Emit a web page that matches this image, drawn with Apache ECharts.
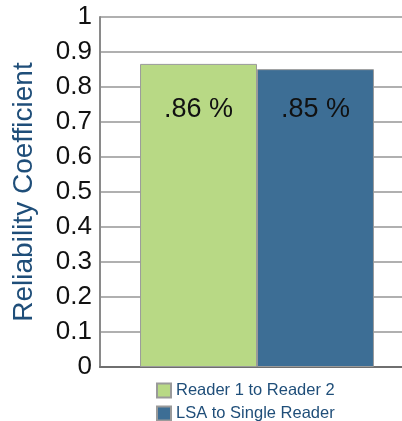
<!DOCTYPE html>
<html>
<head>
<meta charset="utf-8">
<script src="https://cdn.jsdelivr.net/npm/echarts@6/dist/echarts.min.js"></script>
<style>
  html, body { margin: 0; padding: 0; background: #fff; }
  #chart { width: 402px; height: 421px; }
</style>
</head>
<body>
<div id="chart"></div>
<script>
  // data
  var categories = ['Reliability'];
  var seriesNames = ['Reader 1 to Reader 2', 'LSA to Single Reader'];
  var readerValues = [0.866];
  var lsaValues = [0.851];
  var barLabels = ['.86 %', '.85 %'];
  var yTicks = [0, 0.1, 0.2, 0.3, 0.4, 0.5, 0.6, 0.7, 0.8, 0.9, 1];

  var chart = echarts.init(document.getElementById('chart'));
  var font = '"Liberation Sans", Arial, sans-serif';

  var legendText = {
    fontFamily: font,
    fontSize: 16.5,
    color: '#1f4e79'
  };

  var option = {
    backgroundColor: '#ffffff',
    animation: false,
    grid: {
      left: 100,
      width: 314,
      top: 17,
      bottom: 54,
      outerBoundsMode: 'none'
    },
    // one legend per row so they stack like the original
    legend: [
      {
        left: 156,
        top: 382,
        padding: 0,
        icon: 'rect',
        itemWidth: 14,
        itemHeight: 14,
        data: [seriesNames[0]],
        textStyle: legendText
      },
      {
        left: 156,
        top: 405,
        padding: 0,
        icon: 'rect',
        itemWidth: 14,
        itemHeight: 14,
        data: [seriesNames[1]],
        textStyle: legendText
      }
    ],
    xAxis: {
      type: 'category',
      data: categories,
      axisLabel: {show: false},
      axisTick: {show: false},
      axisLine: {
        lineStyle: {color: '#6f6f6f', width: 2}
      }
    },
    yAxis: {
      type: 'value',
      min: yTicks[0],
      max: yTicks[yTicks.length - 1],
      interval: 0.1,
      name: 'Reliability Coefficient',
      nameLocation: 'middle',
      nameGap: 62,
      nameTextStyle: {
        fontFamily: font,
        fontSize: 28,
        color: '#1f4e79'
      },
      axisLine: {
        show: true,
        lineStyle: {color: '#8a8a8a', width: 2}
      },
      axisTick: {show: false},
      axisLabel: {
        fontFamily: font,
        fontSize: 26,
        color: '#111',
        margin: 8,
        formatter: function (v) {
          return String(Math.round(v * 10) / 10);
        }
      },
      splitLine: {
        lineStyle: {color: '#969696', width: 1.6}
      }
    },
    series: [
      {
        name: seriesNames[0],
        type: 'bar',
        data: readerValues,
        barGap: '0%',
        barCategoryGap: '25.5%',
        itemStyle: {color: '#b8d985', borderColor: '#9a9a9a', borderWidth: 1},
        label: {
          show: true,
          position: 'insideTop',
          distance: 32,
          fontFamily: font,
          fontSize: 27,
          color: '#111',
          formatter: function () { return barLabels[0]; }
        }
      },
      {
        name: seriesNames[1],
        type: 'bar',
        data: lsaValues,
        itemStyle: {color: '#3d6e95', borderColor: '#9a9a9a', borderWidth: 1},
        label: {
          show: true,
          position: 'insideTop',
          distance: 27,
          fontFamily: font,
          fontSize: 27,
          color: '#111',
          formatter: function () { return barLabels[1]; }
        }
      }
    ]
  };

  chart.setOption(option);
</script>
</body>
</html>
